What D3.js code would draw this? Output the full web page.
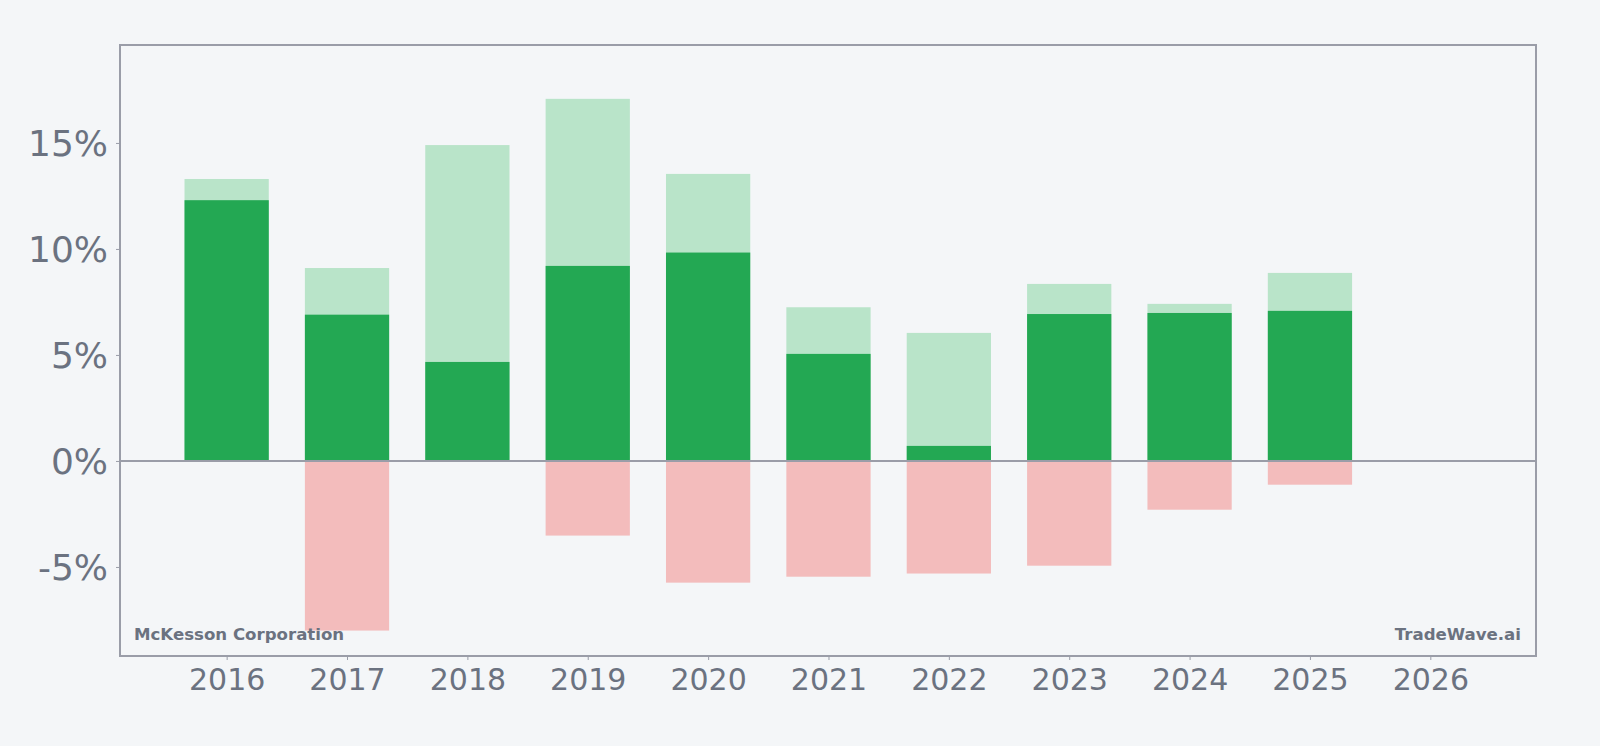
<!DOCTYPE html>
<html>
<head>
<meta charset="utf-8">
<script src="https://cdn.jsdelivr.net/npm/d3@7"></script>
<style>
  body { margin: 0; background: #f4f6f8; }
  svg { display: block; }
  svg text { font-family: "DejaVu Sans", sans-serif; }
</style>
</head>
<body>
<div id="chart"></div>
<script>
// yearly values (percent)
const years = [2016, 2017, 2018, 2019, 2020, 2021, 2022, 2023, 2024, 2025];
const baseValues = [12.3, 6.9, 4.67, 9.2, 9.83, 5.05, 0.71, 6.93, 6.98, 7.08];
const highValues = [13.3, 9.1, 14.9, 17.08, 13.54, 7.25, 6.04, 8.35, 7.41, 8.87];
const lowValues = [0, -8.0, 0, -3.52, -5.74, -5.46, -5.31, -4.94, -2.3, -1.12];
const yTicks = [-5, 0, 5, 10, 15];
const xTicks = [2016, 2017, 2018, 2019, 2020, 2021, 2022, 2023, 2024, 2025, 2026];

const width = 1600, height = 746;
const margin = { top: 45, right: 64, bottom: 90, left: 120 };

const svg = d3.select("#chart")
  .append("svg")
  .attr("width", width)
  .attr("height", height);

svg.append("rect")
  .attr("width", width)
  .attr("height", height)
  .attr("fill", "#f4f6f8");

const x = d3.scaleLinear()
  .domain([2015.114, 2026.878])
  .range([margin.left, width - margin.right]);

const y = d3.scaleLinear()
  .domain([-9.2, 19.62])
  .range([height - margin.bottom, margin.top]);

const barW = x(2016.35) - x(2015.65);

// light bars (upper range)
svg.append("g")
  .selectAll("rect")
  .data(years)
  .enter()
  .append("rect")
  .attr("x", (d) => x(d) - barW / 2)
  .attr("y", (d, i) => y(highValues[i]))
  .attr("width", barW)
  .attr("height", (d, i) => y(0) - y(highValues[i]))
  .attr("fill", "#b9e4c9");

// dark bars
svg.append("g")
  .selectAll("rect")
  .data(years)
  .enter()
  .append("rect")
  .attr("x", (d) => x(d) - barW / 2)
  .attr("y", (d, i) => y(baseValues[i]))
  .attr("width", barW)
  .attr("height", (d, i) => y(0) - y(baseValues[i]))
  .attr("fill", "#23a853");

// negative bars
svg.append("g")
  .selectAll("rect")
  .data(years)
  .enter()
  .append("rect")
  .attr("x", (d) => x(d) - barW / 2)
  .attr("y", y(0))
  .attr("width", barW)
  .attr("height", (d, i) => y(lowValues[i]) - y(0))
  .attr("fill", "#f3bcbc");

// zero line
svg.append("line")
  .attr("x1", x.range()[0])
  .attr("x2", x.range()[1])
  .attr("y1", y(0))
  .attr("y2", y(0))
  .attr("stroke", "#9a9da8")
  .attr("stroke-width", 2);

// axes
const yAxis = svg.append("g")
  .attr("transform", `translate(${margin.left},0)`)
  .call(d3.axisLeft(y).tickValues(yTicks).tickSize(4).tickPadding(8).tickFormat((d) => d + "%"));

const xAxis = svg.append("g")
  .attr("transform", `translate(0,${height - margin.bottom})`)
  .call(d3.axisBottom(x).tickValues(xTicks).tickSize(4).tickPadding(6).tickFormat(d3.format("d")));

yAxis.select(".domain").remove();
xAxis.select(".domain").remove();
yAxis.attr("font-family", null);
xAxis.attr("font-family", null);
yAxis.selectAll("line").attr("stroke", "#9a9da8");
xAxis.selectAll("line").attr("stroke", "#9a9da8");
yAxis.selectAll("text")
  .attr("fill", "#6b7280")
  .style("font-size", "36px")
  .attr("dy", "0.36em");
xAxis.selectAll("text")
  .attr("fill", "#6b7280")
  .style("font-size", "30px")
  .attr("dy", "0.8em");

// frame
svg.append("rect")
  .attr("x", margin.left)
  .attr("y", margin.top)
  .attr("width", width - margin.left - margin.right)
  .attr("height", height - margin.top - margin.bottom)
  .attr("fill", "none")
  .attr("stroke", "#9a9da8")
  .attr("stroke-width", 2);

// labels
svg.append("text")
  .attr("x", margin.left + 14)
  .attr("y", 640)
  .attr("fill", "#6b7280")
  .style("font-size", "16.6px")
  .style("font-weight", "bold")
  .text("McKesson Corporation");

svg.append("text")
  .attr("x", width - margin.right - 15)
  .attr("y", 640)
  .attr("text-anchor", "end")
  .attr("fill", "#6b7280")
  .style("font-size", "16.6px")
  .style("font-weight", "bold")
  .text("TradeWave.ai");
</script>
</body>
</html>
